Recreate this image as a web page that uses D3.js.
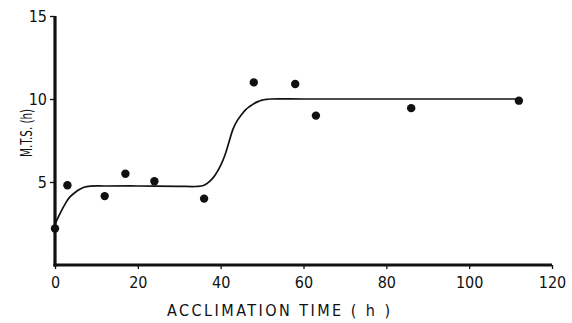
<!DOCTYPE html>
<html><head><meta charset="utf-8">
<script src="https://cdn.jsdelivr.net/npm/d3@7"></script>
<style>body{margin:0;background:#fff}svg{display:block}</style>
</head><body>
<svg id="c" width="572" height="323"></svg>
<script>
// observed points
const obsX = [0, 3, 12, 17, 24, 36, 48, 58, 63, 86, 112];
const obsY = [2.2, 4.8, 4.15, 5.5, 5.05, 4.0, 11.0, 10.9, 9.0, 9.45, 9.9];
// fitted curve
const fitX = [0, 1.2, 2.5, 3.6, 5, 6, 7, 8.5, 12, 20, 30, 34, 36, 38, 39, 40, 41, 42, 43, 44, 45, 46, 47, 48, 49, 50, 51, 52, 60, 80, 100, 112];
const fitY = [2.45, 3.1, 3.7, 4.1, 4.4, 4.56, 4.68, 4.75, 4.76, 4.76, 4.74, 4.73, 4.8, 5.2, 5.55, 6.0, 6.6, 7.4, 8.2, 8.7, 9.05, 9.35, 9.55, 9.72, 9.84, 9.93, 9.98, 10.0, 10.0, 10.0, 10.0, 10.0];
const xTicks = [0, 20, 40, 60, 80, 100, 120];
const yTicks = [5, 10, 15];

const svg = d3.select("#c");
const x = d3.scaleLinear().domain([0, 120]).range([55, 552]);
const y = d3.scaleLinear().domain([0, 15]).range([265, 16]);
const font = "'Liberation Sans Narrow','DejaVu Sans Condensed','Liberation Sans',sans-serif";
const ink = "#111";

// axis lines
svg.append("rect").attr("x", x(0) - 1.6).attr("y", y(0) - 1.5)
  .attr("width", x(120) - x(0) + 1.6).attr("height", 3).attr("fill", ink);
svg.append("rect").attr("x", x(0) - 1.6).attr("y", y(15))
  .attr("width", 3.2).attr("height", y(0) - y(15) + 1.5).attr("fill", ink);

// ticks via axes
const xa = svg.append("g").attr("transform", `translate(0,${y(0)})`)
  .call(d3.axisBottom(x).tickValues(xTicks).tickSize(4).tickSizeOuter(0).tickPadding(8));
xa.select(".domain").remove();
xa.selectAll(".tick line").attr("stroke", ink).attr("stroke-width", 1.3);
xa.selectAll(".tick text").attr("font-family", font).attr("font-size", 16).attr("fill", ink);

const ya = svg.append("g").attr("transform", `translate(${x(0)},0)`)
  .call(d3.axisLeft(y).tickValues(yTicks).tickSize(5).tickSizeOuter(0).tickPadding(3));
ya.select(".domain").remove();
ya.selectAll(".tick line").attr("stroke", ink).attr("stroke-width", 1.3);
ya.selectAll(".tick text").attr("font-family", font).attr("font-size", 16).attr("fill", ink);

// labels
svg.append("text").attr("x", 167).attr("y", 316)
  .attr("font-family", font).attr("font-size", 16).attr("fill", ink)
  .attr("textLength", 223).attr("lengthAdjust", "spacing")
  .text("ACCLIMATION  TIME  ( h )");
svg.append("text").attr("transform", "translate(32,157) rotate(-90)")
  .attr("font-family", font).attr("font-size", 16).attr("fill", ink)
  .attr("textLength", 48).attr("lengthAdjust", "spacingAndGlyphs")
  .text("M.T.S. (h)");

// curve
const fit = fitX.map((v, i) => [v, fitY[i]]);
svg.append("path").datum(fit)
  .attr("d", d3.line().x(d => x(d[0])).y(d => y(d[1])).curve(d3.curveCatmullRom.alpha(0.5)))
  .attr("fill", "none").attr("stroke", ink).attr("stroke-width", 1.7);

// points
const obs = obsX.map((v, i) => [v, obsY[i]]);
svg.append("g").selectAll("circle").data(obs).enter().append("circle")
  .attr("cx", d => x(d[0])).attr("cy", d => y(d[1])).attr("r", 4.2).attr("fill", ink);
</script>
</body></html>
